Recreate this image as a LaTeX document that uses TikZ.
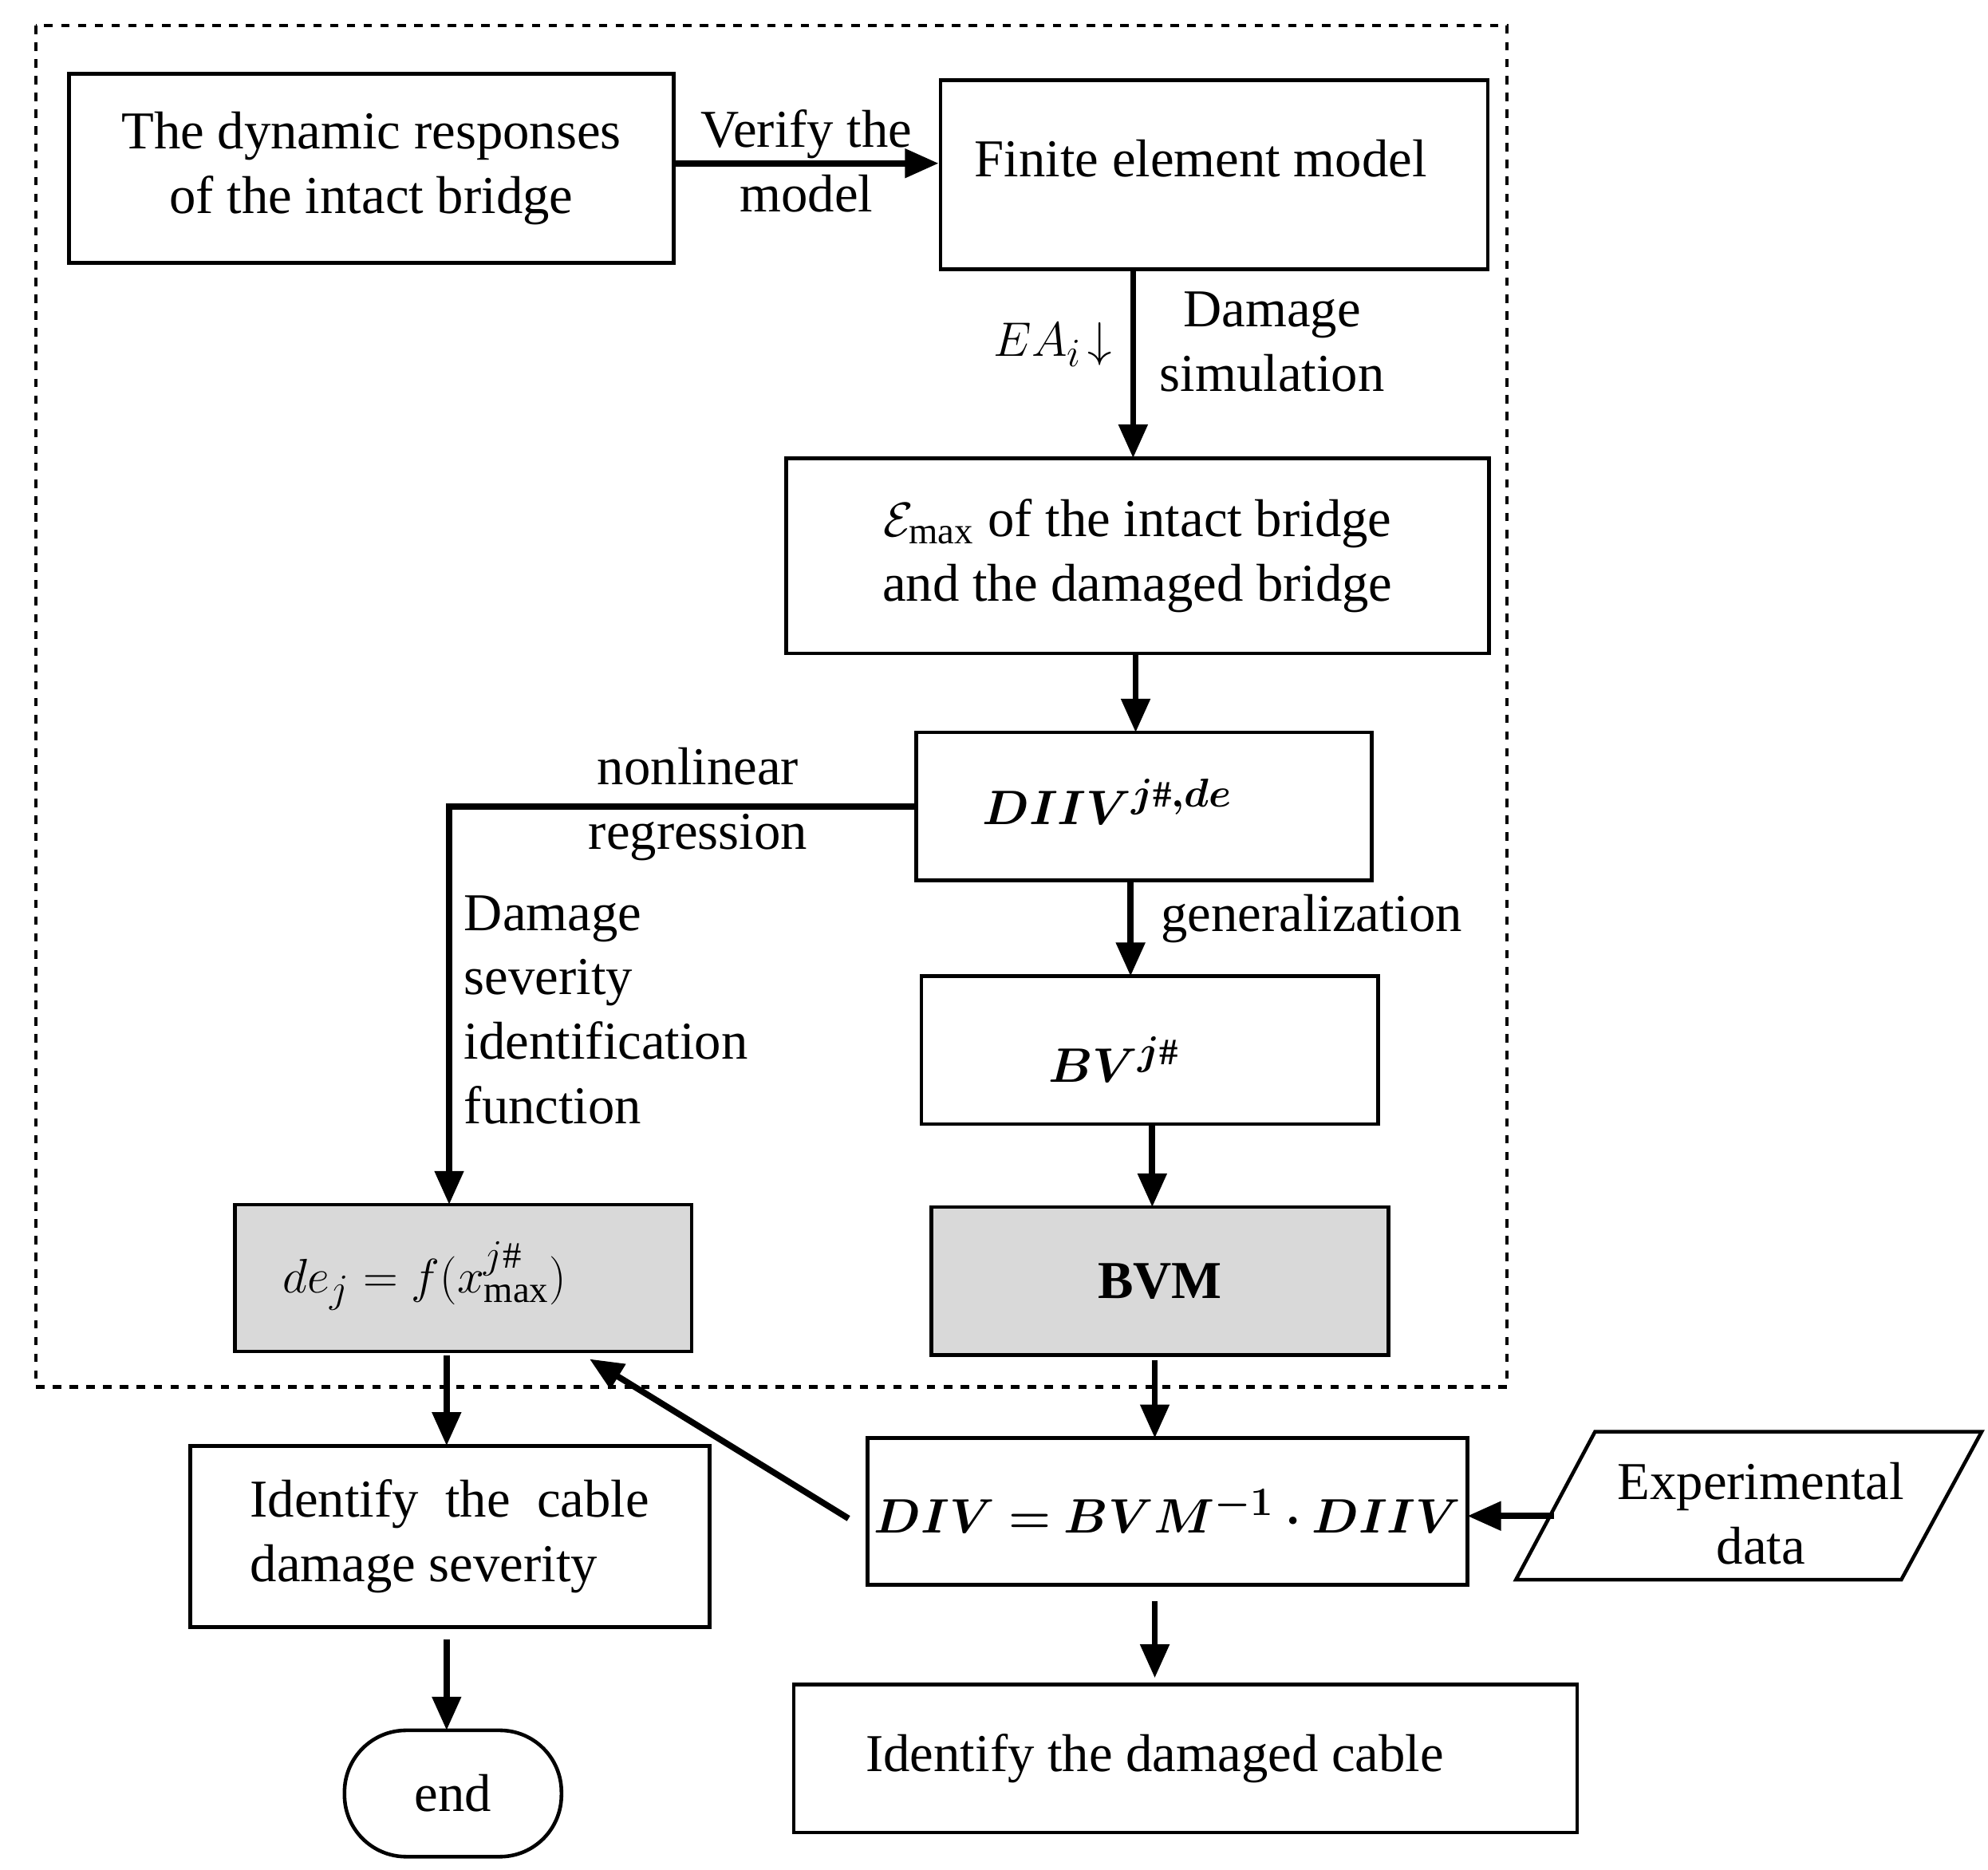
\documentclass[tikz,border=0pt]{standalone}
\usepackage{amsmath,amssymb,bm}
\usepackage{fontspec}
\setmainfont{Liberation Serif}
\usetikzlibrary{arrows.meta,shapes.geometric}
\begin{document}
\begin{tikzpicture}[x=0.016cm,y=-0.016cm,
  box/.style={draw,line width=1.3pt,inner sep=0},
  gbox/.style={box,fill=gray!30},
  arr/.style={line width=2.2pt,-{Triangle[length=12pt,width=10pt]}},
  lbl/.style={font=\fontsize{19}{23}\selectfont,align=center},
  every node/.style={font=\fontsize{19}{23}\selectfont}]
\useasboundingbox (0,0) rectangle (1558,1465);
\draw[dashed,line width=1.3pt] (28,20) rectangle (1181,1087);
\node[box,minimum width=474*0.016cm,minimum height=148*0.016cm,align=center] (A) at (291,132) {The dynamic responses\\of the intact bridge};
\node[box,minimum width=429*0.016cm,minimum height=148*0.016cm] (B) at (951.5,137) {};
\node at (941,124) {Finite element model};
\node[box,minimum width=551*0.016cm,minimum height=153*0.016cm,align=center] (C) at (891.5,435.5) {$\mathcal{E}_{\mathrm{max}}$ of the intact bridge\\and the damaged bridge};
\node[box,minimum width=357*0.016cm,minimum height=116*0.016cm] (D) at (896.5,632) {};
\node at (868,628) {$\bm{DIIV^{j\#,de}}$};
\node[box,minimum width=358*0.016cm,minimum height=116*0.016cm] (E) at (901,823) {};
\node at (873,830) {$\bm{BV^{j\#}}$};
\node[gbox,minimum width=358*0.016cm,minimum height=116*0.016cm,font=\fontsize{19}{23}\selectfont\bfseries] (F) at (909,1004) {BVM};
\node[gbox,minimum width=358*0.016cm,minimum height=115*0.016cm] (G) at (363,1001.5) {};
\node at (333,1000) {$de_j=f(x_{\mathrm{max}}^{j\#})$};
\node[box,minimum width=470*0.016cm,minimum height=115*0.016cm] (H) at (915,1184.5) {$\bm{DIV=BVM^{-1}\cdot DIIV}$};
\node[box,minimum width=407*0.016cm,minimum height=142*0.016cm,align=left] (J) at (352.5,1204) {Identify\ \ the\ \ cable\\damage severity};
\node[box,minimum width=614*0.016cm,minimum height=116*0.016cm] (K) at (929,1378) {};
\node at (905,1378) {Identify the damaged cable};
\node[box,rounded corners=22pt,minimum width=170*0.016cm,minimum height=99*0.016cm] (L) at (355,1405.5) {end};
\draw[line width=1.3pt] (1188,1238) -- (1250,1122) -- (1553,1122) -- (1490,1238) -- cycle;
\node[align=center] (I) at (1380,1186) {Experimental\\data};
\coordinate (Iw) at (1218,1188);
% arrows
\draw[arr] (A.east|-0,128) -- (B.west|-0,128);
\node[lbl] at (632,126) {Verify the\\model};
\draw[arr] (888,211) -- (888,359);
\node at (825,270) {$EA_i\!\downarrow$};
\node[lbl] at (997,268) {Damage\\simulation};
\draw[arr] (890,512) -- (890,574);
\draw[arr] (D.west|-0,632) -- (352,632) -- (352,944);
\node[lbl] at (547,630) {nonlinear\\regression};
\node[align=left,anchor=north west] at (356,694) {Damage\\severity\\identification\\function};
\draw[arr] (886,690) -- (886,765);
\node[anchor=west] at (902,720) {generalization};
\draw[arr] (903,881) -- (903,946);
\draw[arr] (905,1066) -- (905,1127);
\draw[arr] (350,1062) -- (350,1133);
\draw[arr] (665,1190) -- (462,1065);
\draw[arr] (Iw) -- (1150,1188);
\draw[arr] (905,1255) -- (905,1315);
\draw[arr] (350,1285) -- (350,1356);
\end{tikzpicture}
\end{document}
